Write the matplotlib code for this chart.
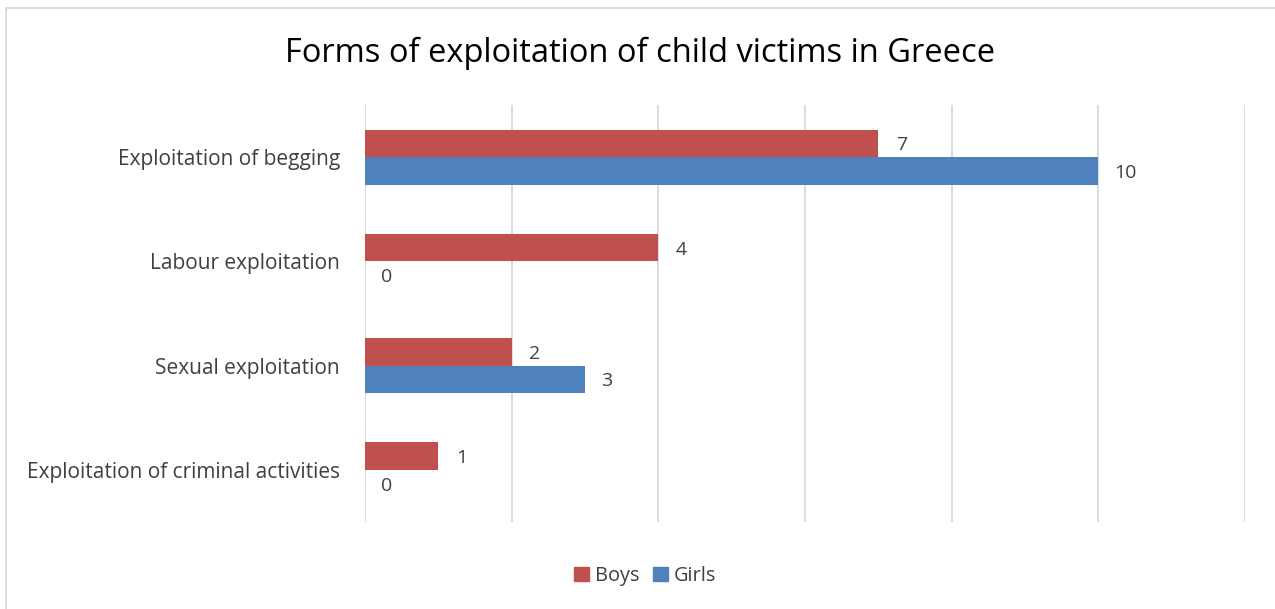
import numpy as np
import matplotlib
matplotlib.use("Agg")
import matplotlib.pyplot as plt
from matplotlib.lines import Line2D

categories = ["Exploitation of begging", "Labour exploitation",
              "Sexual exploitation", "Exploitation of criminal activities"]
boys = [7, 4, 2, 1]
girls = [10, 0, 3, 0]

RED = "#C0504D"
BLUE = "#4F81BD"
TXT = "#404040"

plt.rcParams["font.family"] = ["Open Sans", "DejaVu Sans"]

fig = plt.figure(figsize=(12.75, 6.09), dpi=100)
ax = fig.add_axes([0.2863, 0.1429, 0.6902, 0.6847])

y = np.arange(len(categories))
h = 0.264
ax.barh(y - h / 2, boys, height=h, color=RED, label="Boys", zorder=3)
ax.barh(y + h / 2, girls, height=h, color=BLUE, label="Girls", zorder=3)

for yi, v in zip(y, boys):
    ax.annotate(str(v), (v, yi - h / 2), xytext=(12.5, 0), textcoords="offset points",
                va="center_baseline", ha="left", fontsize=14, color=TXT)
for yi, v in zip(y, girls):
    ax.annotate(str(v), (v, yi + h / 2), xytext=(11.5, 0), textcoords="offset points",
                va="center_baseline", ha="left", fontsize=14, color=TXT)

ax.set_xlim(0, 12)
ax.set_ylim(len(categories) - 0.5, -0.5)
ax.set_xticks(np.arange(0, 13, 2))
ax.set_xticklabels([])
ax.set_yticks(y)
ax.set_yticklabels(categories, fontsize=15, color=TXT, va="center_baseline")
ax.tick_params(axis="both", length=0)
ax.tick_params(axis="y", pad=18)
ax.grid(axis="x", color="#D9D9D9", linewidth=1.3, zorder=0)
for s in ax.spines.values():
    s.set_visible(False)

fig.text(0.502, 0.912, "Forms of exploitation of child victims in Greece",
         ha="center", va="center", fontsize=23.5, color="black")

handles = [plt.Rectangle((0, 0), 1, 1, color=RED), plt.Rectangle((0, 0), 1, 1, color=BLUE)]
fig.legend(handles, ["Boys", "Girls"], loc="center", bbox_to_anchor=(0.506, 0.054),
           ncol=2, frameon=False, fontsize=14.4, handlelength=0.75, handleheight=0.75,
           handletextpad=0.3, columnspacing=0.7, labelcolor=TXT)

# outer chart border (top and left visible)
fig.add_artist(Line2D([6 / 1275, 1], [1 - 8 / 609, 1 - 8 / 609], color="#D9D9D9", lw=1.3,
                      transform=fig.transFigure))
fig.add_artist(Line2D([6 / 1275, 6 / 1275], [0, 1 - 8 / 609], color="#D9D9D9", lw=1.3,
                      transform=fig.transFigure))

fig.savefig("out.png", dpi=100)
plt.close("all")
